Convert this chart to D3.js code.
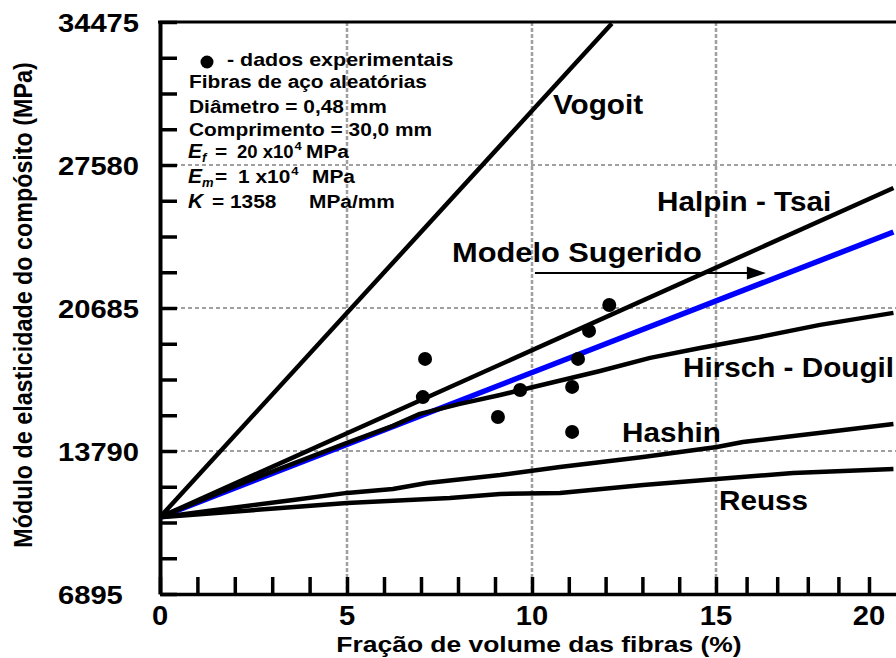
<!DOCTYPE html>
<html>
<head>
<meta charset="utf-8">
<script src="https://cdn.jsdelivr.net/npm/d3@7"></script>
<style>
  body { margin: 0; background: #fff; }
  svg { display: block; }
  text { font-family: "Liberation Sans", Arial, Helvetica, sans-serif; font-weight: bold; fill: #000; white-space: pre; }
</style>
</head>
<body>
<svg id="chart" width="896" height="658"></svg>
<script>
// ---- data ---------------------------------------------------------------
// Axis breakpoints (volume fraction, %) and labels
const xTickValues = [0, 5, 10, 15, 20];
const xTickLabels = ["0", "5", "10", "15", "20"];
const xEnd = 20.9;
// Modulus axis (MPa)
const yTickValues = [6895, 13790, 20685, 27580, 34475];
const yTickLabels = ["6895", "13790", "20685", "27580", "34475"];

// Model predictions: [fibre volume fraction %, modulus MPa]
const vogoit = [[0, 10600], [12.17, 34400]];
const halpinTsai = [[0, 10600], [20.8, 26470]];
const modeloSugerido = [[0, 10600], [20.8, 24350]];
const hirschDougil = [[0, 10600], [2.41, 12390], [5, 14180], [6.24, 15000], [6.97, 15580], [8.05, 16060],
  [9.14, 16490], [10.49, 17070], [11.85, 17650], [13.21, 18280], [14.57, 18760], [16.44, 19290],
  [18.4, 19870], [20.8, 20450]];
const hashin = [[0, 10600], [3.56, 11430], [5, 11770], [6.24, 11960], [7.16, 12250], [9.14, 12630],
  [10.76, 13020], [13.02, 13500], [15.03, 13980], [15.88, 14220], [18.63, 14710], [20.8, 15090]];
const reuss = [[0, 10600], [5, 11280], [7.78, 11520], [9.14, 11720], [10.76, 11770], [13.02, 12150],
  [15.03, 12440], [17.52, 12730], [20.8, 12920]];

// Experimental results
const experimental = [[7.11, 18230], [7.05, 16390], [9.08, 15430], [9.68, 16730], [11.09, 16880],
  [11.09, 14710], [11.25, 18230], [11.55, 19580], [12.1, 20830]];

// Arrow pointing at the suggested model
const arrowFrom = [10.08, 22370];
const arrowTo = [16.63, 22370];

// ---- layout -------------------------------------------------------------
const SX = 1.13; // horizontal stretch of the lettering
const svg = d3.select("#chart");

// the horizontal axis is drawn with its own spacing per 5 % step
const x = d3.scaleLinear()
  .domain([0, 5, 10, 15, 20, xEnd])
  .range([160, 347, 532, 716, 869, 896.5]);
const y = d3.scaleLinear().domain([6895, 34475]).range([594, 22]);

function addText(parent, px, py, str, o = {}) {
  const sx = o.sx != null ? o.sx : SX;
  const t = parent.append("text")
    .attr("transform", `translate(${px},${py}) scale(${sx},1)`)
    .attr("font-size", o.size || 27)
    .attr("text-anchor", o.anchor || "start")
    .text(str);
  if (o.serif) t.attr("font-family", '"Liberation Serif", "Times New Roman", serif').attr("font-style", "italic");
  return t;
}
// right edge of a start-anchored stretched text
function endOf(t, px, sx = SX) {
  return px + t.node().getComputedTextLength() * sx;
}

// ---- grid ---------------------------------------------------------------
const grid = svg.append("g").attr("stroke", "#a0a0a0").attr("fill", "none");
grid.selectAll("line.v").data([5, 10, 15]).join("line")
  .attr("x1", d => x(d)).attr("x2", d => x(d))
  .attr("y1", y(34475)).attr("y2", y(6895))
  .attr("stroke-width", 2.5).attr("stroke-dasharray", "4,2");
grid.selectAll("line.h").data([13790, 20685, 27580]).join("line")
  .attr("x1", x(0)).attr("x2", x(xEnd))
  .attr("y1", d => y(d)).attr("y2", d => y(d))
  .attr("stroke-width", 2).attr("stroke-dasharray", "4,3");

// ---- axes ---------------------------------------------------------------
const xMinor = d3.range(0, 21, 1);
const xAxis = d3.axisBottom(x).tickValues(xMinor).tickFormat("").tickSizeInner(-17).tickSizeOuter(0);
const gx = svg.append("g").attr("transform", `translate(0,${y(6895)})`).call(xAxis);
gx.select(".domain").attr("stroke", "#000").attr("stroke-width", 3.5);
gx.selectAll(".tick line").attr("stroke", "#000").attr("stroke-width", 3.5);

const yMinor = d3.range(0, 17).map(i => 6895 + i * 6895 / 4);
const yAxis = d3.axisLeft(y).tickValues(yMinor).tickFormat("").tickSizeInner(-17).tickSizeOuter(0);
const gy = svg.append("g").attr("transform", `translate(${x(0)},0)`).call(yAxis);
gy.select(".domain").attr("stroke", "#000").attr("stroke-width", 4);
gy.selectAll(".tick line").attr("stroke", "#000").attr("stroke-width", 3.5);

// top frame
svg.append("line")
  .attr("x1", x(0) - 2).attr("x2", x(xEnd))
  .attr("y1", y(34475)).attr("y2", y(34475))
  .attr("stroke", "#000").attr("stroke-width", 3);

// tick labels
xTickValues.forEach((v, i) => addText(svg, x(v), 625, xTickLabels[i], { size: 27, anchor: "middle", sx: 1.08 }));
yTickValues.forEach((v, i) => addText(svg, 58, y(v) + 9.5, yTickLabels[i], { size: 26.5, sx: 1.1 }));

// axis titles
addText(svg, 539, 652, "Fração de volume das fibras (%)", { size: 21.5, anchor: "middle", sx: 1.23 });
svg.append("text")
  .attr("transform", "translate(32,305) rotate(-90) scale(1,1.13)")
  .attr("font-size", 23.3).attr("text-anchor", "middle")
  .text("Módulo de elasticidade do compósito (MPa)");

// ---- curves -------------------------------------------------------------
svg.append("clipPath").attr("id", "plot-clip").append("rect")
  .attr("x", x(0)).attr("y", y(34475)).attr("width", x(xEnd) - x(0)).attr("height", y(6895) - y(34475));

const line = d3.line().x(d => x(d[0])).y(d => y(d[1]));
const curves = svg.append("g").attr("clip-path", "url(#plot-clip)")
  .attr("fill", "none").attr("stroke-linejoin", "round").attr("stroke-linecap", "butt");

curves.append("path").datum(modeloSugerido).attr("d", line).attr("stroke", "#0000ff").attr("stroke-width", 5.5);
[reuss, hashin, hirschDougil, halpinTsai, vogoit].forEach(s =>
  curves.append("path").datum(s).attr("d", line).attr("stroke", "#000").attr("stroke-width", 4.5));

// experimental points
svg.append("g").selectAll("circle").data(experimental).join("circle")
  .attr("cx", d => x(d[0])).attr("cy", d => y(d[1])).attr("r", 7).attr("fill", "#000");

// arrow
svg.append("line")
  .attr("x1", x(arrowFrom[0])).attr("y1", y(arrowFrom[1]))
  .attr("x2", x(arrowTo[0]) - 16).attr("y2", y(arrowTo[1]))
  .attr("stroke", "#000").attr("stroke-width", 2);
{
  const tx = x(arrowTo[0]), ty = y(arrowTo[1]);
  svg.append("path")
    .attr("d", `M${tx},${ty} L${tx - 19},${ty - 6.5} L${tx - 19},${ty + 6.5} Z`)
    .attr("fill", "#000");
}

// ---- curve labels -------------------------------------------------------
const lab = { size: 28, sx: 1.06 };
addText(svg, 553, 114, "Vogoit", lab);
addText(svg, 657, 211, "Halpin - Tsai", lab);
addText(svg, 452, 262, "Modelo Sugerido", { size: 28, sx: 1.1 });
addText(svg, 683, 377, "Hirsch - Dougil", lab);
addText(svg, 622, 442, "Hashin", lab);
addText(svg, 719, 510, "Reuss", lab);

// ---- legend / specimen notes --------------------------------------------
const note = svg.append("g");
const nf = { size: 18.5 };
note.append("circle").attr("cx", 207).attr("cy", 62).attr("r", 6.5).attr("fill", "#000");
addText(note, 227, 66, "- dados experimentais", { size: 18.5, sx: 1.16 });
addText(note, 189, 88, "Fibras de aço aleatórias", nf);
addText(note, 189, 113, "Diâmetro = 0,48 mm", nf);
addText(note, 189, 136, "Comprimento = 30,0 mm", nf);

addText(note, 188, 158, "E", { size: 21, serif: true, sx: 1 });
addText(note, 202, 162, "f", { size: 13, serif: true, sx: 1 });
addText(note, 215, 158, "=", nf);
const ef = addText(note, 237, 158, "20 x10", { size: 18.5, sx: 1 });
addText(note, endOf(ef, 237, 1) + 1, 150, "4", { size: 11.5 });
addText(note, 306, 158, "MPa", nf);

addText(note, 188, 183, "E", { size: 21, serif: true, sx: 1 });
addText(note, 202, 187, "m", { size: 13, serif: true, sx: 1 });
addText(note, 215, 183, "=", nf);
const em = addText(note, 238, 183, "1 x10", nf);
addText(note, endOf(em, 238) + 1, 175, "4", { size: 11.5 });
addText(note, 312, 183, "MPa", nf);

addText(note, 188, 208, "K", { size: 21, serif: true, sx: 1 });
addText(note, 212, 208, "= 1358", nf);
addText(note, 309, 208, "MPa/mm", nf);
</script>
</body>
</html>
